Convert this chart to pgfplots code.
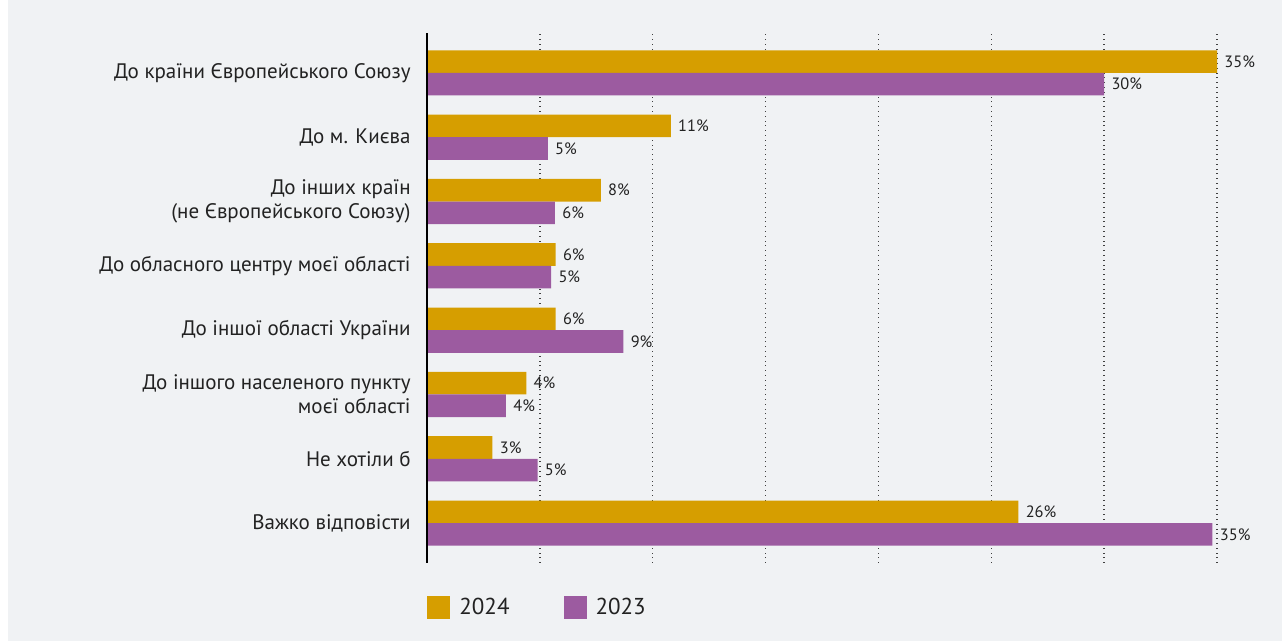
\documentclass[border=0pt]{standalone}
\usepackage{pgfplots}
\pgfplotsset{compat=1.18}
\usepackage{fontspec}
\setmainfont{PT Sans}
\definecolor{bg}{HTML}{F0F2F4}
\definecolor{gold}{HTML}{D69E00}
\definecolor{plum}{HTML}{9C5BA0}
\definecolor{txt}{HTML}{222222}

\begin{document}
\begin{tikzpicture}
\fill[bg] (0,0) rectangle (641pt,320.5pt);
\fill[white] (0,0) rectangle (4pt,320.5pt);
\path[use as bounding box] (0,0) rectangle (641pt,320.5pt);
\begin{axis}[
  at={(213.5pt,39pt)}, anchor=south west,
  scale only axis, width=395pt, height=265pt,
  xbar, bar width=11.3pt,
  xmin=0, xmax=35, ymin=-0.62, ymax=7.62,
  clip=false,
  axis line style={draw=none},
  xtick={5,10,...,35}, xticklabels={},
  xmajorgrids, grid style={dotted, black!75, line width=0.65pt},
  major tick length=0pt,
  ytick={0,...,7},
  yticklabels={Важко відповісти, Не хотіли б,
    {До іншого населеного пункту\\моєї області},
    До іншої області України,
    До обласного центру моєї області,
    {До інших країн\\(не Європейського Союзу)},
    До м. Києва,
    До країни Європейського Союзу},
  yticklabel style={align=right, inner sep=0pt, xshift=-8pt, text=txt,
    font=\fontsize{10.5}{12}\selectfont},
  point meta=explicit symbolic,
  nodes near coords,
  nodes near coords style={font=\fontsize{8.2}{10}\selectfont, text=txt,
    anchor=west, inner sep=1pt, xshift=2.5pt},
  legend columns=2,
  legend style={at={(rel axis cs:0,0)}, anchor=west, yshift=-22.5pt,
    draw=none, fill=none, inner sep=0pt,
    font=\fontsize{11.5}{14}\selectfont, text=txt,
    /tikz/every odd column/.append style={column sep=2.5pt},
    /tikz/every even column/.append style={column sep=25pt}},
  legend image code/.code={\fill[#1] (0pt,-5.75pt) rectangle (11.5pt,5.75pt);},
]
\addplot[draw=none, fill=gold, bar shift=5.65pt] coordinates {
  (35.0,7) [35\%] (10.8,6) [11\%] (7.7,5) [8\%] (5.7,4) [6\%]
  (5.7,3) [6\%] (4.4,2) [4\%] (2.9,1) [3\%] (26.2,0) [26\%]};
\addlegendentry{2024}
\addplot[draw=none, fill=plum, bar shift=-5.65pt] coordinates {
  (30.0,7) [30\%] (5.35,6) [5\%] (5.67,5) [6\%] (5.5,4) [5\%]
  (8.7,3) [9\%] (3.5,2) [4\%] (4.9,1) [5\%] (34.8,0) [35\%]};
\addlegendentry{2023}
\draw[black, line width=0.75pt] (rel axis cs:0,0) -- (rel axis cs:0,1);
\end{axis}
\end{tikzpicture}
\end{document}
